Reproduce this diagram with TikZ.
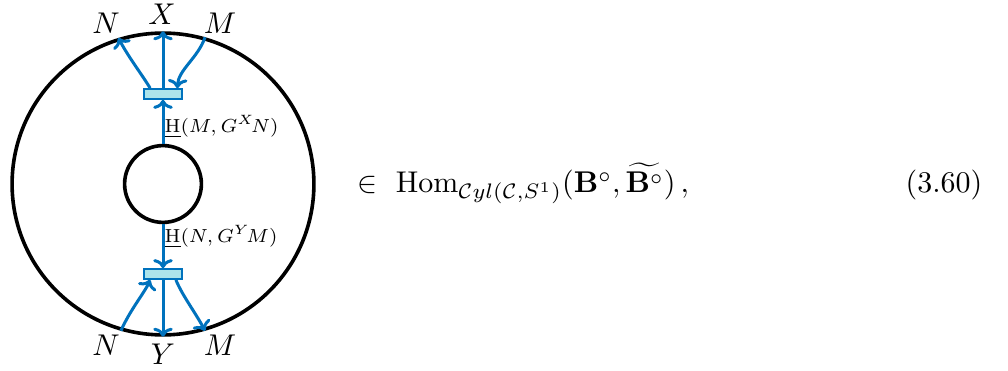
\documentclass[tikz,border=0pt]{standalone}
\usepackage{graphicx}
\usepackage{amsmath,amssymb}
\usetikzlibrary{arrows.meta}
\definecolor{strand}{RGB}{0,114,189}
\definecolor{cup}{RGB}{172,228,235}
\begin{document}
\begin{tikzpicture}[x=0.3333pt,y=-0.3333pt,
  ring/.style={circle,draw=black,line width=1.2pt,inner sep=0pt},
  coup/.style={draw=strand,fill=cup,line width=0.6pt,minimum width=12.7pt,minimum height=3.3pt,inner sep=0pt},
  wire/.style={draw=strand,line width=1pt,-{To[length=3pt,width=6.5pt]}},
  lab/.style={inner sep=0pt},
  small/.style={inner sep=0pt,anchor=base west,font=\scriptsize}]
\useasboundingbox (0,0) rectangle (1008,371);
\node[ring,minimum size=100.6pt] (outer) at (163,184) {};
\node[ring,minimum size=25.6pt] (inner) at (163,184) {};
\node[coup] (bu) at (163,94) {};
\node[coup] (bd) at (163,274) {};
% upper strands
\draw[wire] (inner.north) -- (bu.south);
\draw[wire] (bu.north) -- (outer.north);
\draw[wire] ([xshift=-4.3pt]bu.north) .. controls (143,76) and (129,58) .. (outer.107);
\draw[wire] (outer.74) .. controls (198,58) and (178,70) .. ([xshift=4.8pt]bu.north);
% lower strands
\draw[wire] (inner.south) -- (bd.north);
\draw[wire] (bd.south) -- (outer.south);
\draw[wire] (outer.-106) .. controls (130,310) and (145,292) .. ([xshift=-4.3pt]bd.south);
\draw[wire] ([xshift=4.3pt]bd.south) .. controls (182,295) and (195,312) .. (outer.-74);
% labels
\node[lab] (ln1) at (106,23) {$N$};
\node[lab] (lx) at (162,14) {$X$};
\node[lab] (lm1) at (220,23) {$M$};
\node[lab] (ln2) at (106,345) {$N$};
\node[lab] (ly) at (163,354) {$Y$};
\node[lab] (lm2) at (220,345) {$M$};
\node[small] (hu) at (164,133) {\scalebox{0.9}{$\underline{\mathrm{H}}(M,G^{X}\!N)$}};
\node[small] (hd) at (164,243) {\scalebox{0.9}{$\underline{\mathrm{H}}(N,G^{Y}\!M)$}};
\node[lab,anchor=base west] (eq) at (357,193) {$\in\ \mathrm{Hom}_{\mathcal{C}yl(\mathcal{C},S^1)}(\mathbf{B}^\circ,\widetilde{\mathbf{B}^\circ})\,,$};
\node[lab,anchor=base east] (num) at (983,193) {(3.60)};
\end{tikzpicture}
\end{document}
